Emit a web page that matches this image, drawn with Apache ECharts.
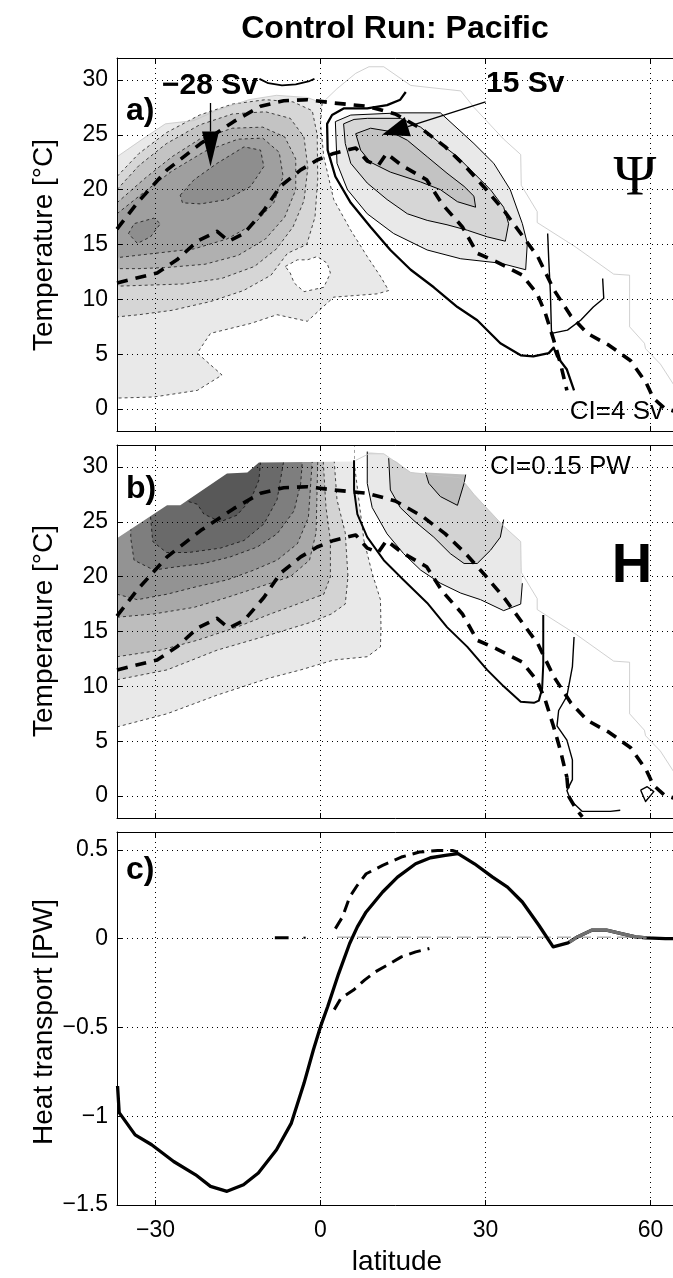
<!DOCTYPE html>
<html><head><meta charset="utf-8">
<script src="https://cdn.jsdelivr.net/npm/echarts@6/dist/echarts.min.js"></script>
<style>html,body{margin:0;padding:0;background:#fff}#c{width:673px;height:1278px}</style>
</head><body><div id="c"></div>
<script>
// ---------- ticks ----------
const latTicks = [-30, 0, 30, 60];
const tempTicks = [0, 5, 10, 15, 20, 25, 30];
const heatTicks = [-1.5, -1, -0.5, 0, 0.5];

// ---------- shared dashed lines (lat, T) ----------
const sstUpper = [[-37,16.4],[-36.7,16.6],[-33.3,18.8],[-27.9,21.8],[-21.8,24.2],[-15.8,26.2],[-10.9,27.6],[-6.7,28.1],[-2.4,28.2],[2.4,27.9],[8.5,27.6],[13.6,26.9],[18.5,25.5],[22.7,23.9],[26.2,22.2],[29.8,20.2],[33.5,18.0],[36.4,16.0],[39.5,13.9],[42.4,10.9],[45.5,8.5],[48.5,6.9],[52.5,5.8],[56.4,4.4],[59.2,2.4],[60.5,1.0],[62.5,0.1],[65,-0.3]];
const sstLower = [[-37,11.5],[-36.7,11.6],[-29.7,12.4],[-26.1,13.6],[-22.4,15.3],[-18.8,16.2],[-16.7,15.3],[-13.9,16.0],[-10.3,18.1],[-7.3,20.3],[-3.6,21.8],[-0.6,22.7],[2.4,23.3],[6.4,23.8],[8.5,22.6],[10.5,22.2],[12,23.3],[14.8,22.2],[19.3,20.9],[22.1,18.7],[25.8,16.6],[28.5,14.2],[32.1,13.4],[36.7,12.2],[39.4,10.5],[40.9,8.7],[42.4,6.3],[43.6,4.2],[44.8,1.7]];
const sstLowerTailB = [[44.8,1.7],[45.1,0],[46.5,-1.2],[47.6,-1.9]];
const maskRight = [[6.4,30.6],[8.8,31.2],[11.5,31.2],[16.4,29.5],[25.5,29.0],[27.9,27.5],[33.3,24.6],[36.4,23.2],[36.5,20.4],[39.4,18.0],[39.4,17.0],[46.3,14.8],[53.3,12.3],[56.2,12.2],[56.2,7.5],[58.9,6.0],[59.1,5.5],[61.8,4.1],[64.5,2.0]];

// ---------- panel a: overturning streamfunction ----------
const psiNegL1 = [[-37,23.0],[-32.1,24.7],[-28.2,26.0],[-23,26.3],[-19,27.2],[-13,28.2],[-8,28.6],[-2.4,28.4],[0.3,27.9],[0,26.0],[0.6,23.0],[2.4,19.1],[5.5,16.3],[8.5,13.9],[10.9,12.1],[12.4,10.8],[10.3,10.5],[2.4,10.2],[-2.4,8.0],[-7.9,8.6],[-12.7,7.8],[-20,6.9],[-22.4,5.1],[-17.9,3.1],[-22.4,1.7],[-30.3,1.1],[-37,1.0]];
const psiNegL1Edge = [[0.3,27.9],[0,26.0],[0.6,23.0],[2.4,19.1],[5.5,16.3],[8.5,13.9],[10.9,12.1],[12.4,10.8],[10.3,10.5],[2.4,10.2],[-2.4,8.0],[-7.9,8.6],[-12.7,7.8],[-20,6.9],[-22.4,5.1],[-17.9,3.1],[-22.4,1.7],[-30.3,1.1],[-37,1.0]];
const psiNegL2 = [[-37,21.2],[-33,23.3],[-28,25.2],[-22,26.8],[-16,27.8],[-10,28.2],[-5,28.0],[-1.5,27.2],[-0.6,25],[-0.5,21],[-1,17.5],[-2.5,15],[-6,14.2],[-9,12.2],[-14,10.8],[-20,9.8],[-27,9.0],[-33,8.6],[-37,8.4]];
const psiNegL3 = [[-37,20.0],[-33,22.2],[-28,24.2],[-22,25.9],[-16,26.9],[-10,27.1],[-5.5,26.5],[-3,24.8],[-2.3,22],[-3,19],[-5,16.6],[-8,14.6],[-12,13.0],[-18,11.9],[-25,11.4],[-31,11.3],[-37,11.2]];
const psiNegL4 = [[-37,18.8],[-32,21.0],[-27,23.0],[-22,24.6],[-16,25.6],[-10.5,25.7],[-6.5,24.8],[-4.5,22.8],[-4.5,20],[-6.5,17.5],[-10,15.5],[-15,14.0],[-21,13.2],[-28,12.9],[-33,12.8],[-37,12.8]];
const psiNegL5 = [[-37,17.8],[-32,19.8],[-27,21.7],[-21,23.5],[-15,24.6],[-10.5,24.7],[-7.5,23.4],[-6.8,21.2],[-8.5,18.8],[-12,16.9],[-17,15.5],[-23,14.6],[-30,14.2],[-37,13.8]];
const psiNegCoreMain = [[-25.5,19.5],[-23,20.9],[-18.8,22.4],[-13.9,23.9],[-10.9,23.6],[-10.3,22.1],[-12.7,20.3],[-17,19.1],[-21.8,18.7],[-25.1,18.8]];
const psiNegCoreLeft = [[-34.9,16.0],[-33.9,16.9],[-30.3,17.4],[-29.1,16.9],[-30.9,15.7],[-33.3,15.1]];
const psiHole = [[-6.4,13.0],[-4.2,13.6],[-2.4,13.6],[-0.6,13.9],[1.2,13.3],[1.8,12.4],[0.6,11.1],[-3.0,10.7],[-4.8,11.5],[-5.5,12.4]];
const psiPos4 = [[2.7,26.2],[5.5,26.8],[14.5,27.0],[21.8,27.0],[27.9,24.2],[31.5,22.4],[34.5,20.0],[36.7,16.9],[37.6,15.1],[37.3,12.7],[32.7,13.3],[25.5,13.7],[19.4,14.5],[13.3,16.0],[8.5,17.8],[4.9,20.0],[3.0,22.4]];
const psiPos8 = [[4.2,26.0],[6.1,26.4],[8.5,26.5],[14.5,26.5],[18.2,25.7],[21.8,24.2],[24.9,23.0],[27.9,21.5],[30.9,20.0],[33.3,18.4],[34.2,16.9],[33.6,15.3],[30.3,15.7],[26.7,16.3],[23.0,16.8],[19.4,17.2],[15.8,17.8],[12.1,19.1],[8.5,20.6],[5.5,22.4],[4.5,24.2]];
const psiPos12 = [[6.4,25.1],[9.1,25.6],[12.7,25.3],[15.8,24.5],[19.4,23.0],[23.0,21.5],[26.1,20.3],[27.9,19.4],[28.2,18.4],[24.9,18.9],[21.8,20.0],[18.2,20.7],[12.7,21.6],[9.1,22.5],[7.3,23.6]];
const psiZeroA = [[15.5,28.9],[14.5,28.2],[12.1,27.7],[8.5,27.4],[4.2,27.4],[2.1,26.8],[1.2,26.0],[1.3,23.6],[2.7,21.2],[5.5,18.8],[9.1,16.6],[12.7,14.5],[16.4,12.7],[20.6,11.1],[24.9,9.3],[28.5,8.1],[32.7,6.0],[36.4,4.9],[38.7,4.8],[41.5,5.1],[42.4,5.6],[43.0,4.8],[44.8,3.6],[46.1,1.7]];
const psiLineV = [[41.3,16.0],[41.5,13.6],[41.8,10.6],[42,6.9],[44.9,7.2],[47.3,8.1],[49.6,9.3],[51.5,10.1],[51.3,11.9]];
const psiTopCurve = [[-11.1,30.1],[-9.5,29.7],[-7,29.5],[-4.5,29.6],[-2,29.9],[-1.1,30.1]];
const psiMaskA = [[-37,23.0],[-32.1,24.7],[-28.2,26.0],[-23,26.3],[-19,27.2],[-13,28.2],[-8,28.6],[-2.4,28.4],[0.3,27.9],[3,29.2]].concat(maskRight);
const arrowNeg = [[-20,27.9],[-20,22.1]];
const arrowPos = [[30.0,28.0],[11.2,25.0]];

// ---------- panel b: heat transport ----------
const heatNegB1 = [[-37,6.3],[-27.9,7.5],[-18.8,9.2],[-9.7,10.7],[-3.6,11.5],[2.4,12.4],[8.5,12.7],[10.9,13.6],[11.0,15.4],[10.9,17.9],[9.4,20.3],[7.9,23.3],[6.1,30.5],[6.1,32],[-37,32]];
const heatNegB2 = [[-37,10.6],[-27.9,11.5],[-18.8,13.3],[-8.5,14.8],[-2,15.8],[2,16.6],[4.5,17.5],[5,20],[4.5,24],[3,27],[2.5,30.5],[2.5,32],[-37,32]];
const heatNegB3 = [[-37,12.7],[-29.1,13.3],[-22.4,14.2],[-15.2,15.4],[-9.1,16.6],[-4.2,17.5],[0.6,18.4],[1.8,20],[1.8,23.3],[1,26.3],[0.5,30.5],[0.5,32],[-37,32]];
const heatNegB4 = [[-37,16.3],[-30.3,16.6],[-23,17.2],[-17,18.1],[-10.9,19.1],[-5.5,20.0],[-2,21.5],[-0.8,24],[-0.5,30.5],[-0.5,32],[-37,32]];
const heatNegB5 = [[-37,18.4],[-33.3,17.9],[-27.9,18.4],[-22.4,19.1],[-17,19.7],[-12.1,20.6],[-7.9,21.5],[-4.2,23.0],[-2.2,25.4],[-1.5,30.5],[-1.5,32],[-37,32]];
const heatNegB6 = [[-34.5,25],[-34.5,23.5],[-33.9,21.5],[-30.3,20.6],[-26.1,20.9],[-21.2,21.2],[-16.4,21.8],[-11.5,22.7],[-7.9,23.9],[-4.8,26.0],[-3.6,28.5],[-3.3,30.5],[-3.3,32],[-34.5,32]];
const heatNegB7 = [[-31,26],[-30.5,23.2],[-28,22.2],[-24,22.2],[-18.2,22.6],[-13.9,23.3],[-10.3,24.8],[-7.9,27.0],[-6.7,30.5],[-6.7,32],[-31,32]];
const heatNegB8 = [[-25,27],[-22.4,26.6],[-21.2,25.7],[-18.2,25.0],[-15.2,25.6],[-12.7,27.0],[-11.2,28.8],[-10.9,30.5],[-10.9,32],[-25,32]];
const heatMaskB = [[-37,23.5],[-27.9,26.5],[-25.5,26.5],[-17,29.4],[-13.3,29.5],[-11.2,30.4],[6.1,30.5],[6.1,33],[-37,33]];
const heatPosLight = [[8.5,31.4],[8.5,28.5],[9.4,26.3],[12.1,23.9],[15.1,22.1],[18.2,20.6],[21.8,19.4],[25.5,18.5],[29.1,17.9],[33.3,16.9],[36.4,17.5],[36.7,19.4],[36.5,20.4],[36.4,23.2],[33.3,24.6],[27.9,27.5],[25.5,29.0],[16.4,29.5],[11.5,31.2]];
const heatPosLightEdge = [[8.5,31.4],[8.5,28.5],[9.4,26.3],[12.1,23.9],[15.1,22.1],[18.2,20.6],[21.8,19.4],[25.5,18.5],[29.1,17.9],[33.3,16.9],[36.4,17.5],[36.7,19.4]];
const heatPosMid = [[12.4,30.8],[12.7,27.9],[14.5,26.3],[17.0,25.1],[20.6,23.6],[23.6,22.1],[26.1,21.2],[28.5,21.2],[30.9,22.4],[32.7,23.6],[33.3,24.6],[27.9,27.5],[25.5,29.0],[16.4,29.5],[13.8,30.5]];
const heatPosMidEdge = [[12.4,30.8],[12.7,27.9],[14.5,26.3],[17.0,25.1],[20.6,23.6],[23.6,22.1],[26.1,21.2],[28.5,21.2],[30.9,22.4],[32.7,23.6],[33.3,25.2]];
const heatPosCore = [[19.1,29.5],[19.7,28.5],[21.8,27.3],[24.9,26.5],[26.1,28.5],[26.4,29.3]];
const heatZeroB = [[6.1,30.6],[6.1,27.9],[6.7,25.7],[8.5,23.6],[11.5,21.5],[15.1,19.7],[19.4,17.6],[23.0,15.4],[26.7,13.6],[30.3,11.5],[33.3,10.0],[36.4,8.6],[38.8,8.5],[39.7,8.7],[40.3,9.8],[40.5,12],[40.5,16.5]];
const heatLineB5 = [[46.1,14.5],[45.8,11.8],[44.8,9.1],[43.3,7.8],[43.0,6.4],[44.8,5.1],[45.8,3.3],[45.8,1.5],[44.8,0.5],[45.5,-0.4],[47.6,-1.4],[52.7,-1.4],[54.5,-1.3]];
const heatLoopB = [[58.2,0.55],[59.4,0.85],[60.6,0.4],[59.1,-0.5],[58.2,0.55]];

// ---------- panel c: heat transport (PW) ----------
const heatTotal = [[-36.9,-0.83],[-36.6,-0.98],[-33.7,-1.105],[-30.7,-1.161],[-26.7,-1.255],[-22.7,-1.33],[-20,-1.395],[-17,-1.423],[-14,-1.386],[-11.3,-1.32],[-8,-1.189],[-5.3,-1.039],[-3,-0.815],[-1.3,-0.627],[0,-0.496],[1.3,-0.384],[3.3,-0.197],[5.3,-0.028],[6.7,0.066],[8.3,0.15],[11.3,0.262],[14,0.346],[17.3,0.421],[20,0.455],[22.7,0.468],[25,0.478],[28,0.421],[31.3,0.346],[34,0.29],[36.7,0.206],[39.7,0.075],[42.3,-0.047],[45,-0.024],[46.7,0.009],[49.3,0.047],[52,0.047],[54.7,0.028],[57.3,0.009],[59.3,0.004],[62.7,0],[65,0]];
const heatGrayPart = [[45.3,-0.02],[46.7,0.009],[49.3,0.047],[52,0.047],[54.7,0.028],[57.3,0.009],[59.3,0.004]];
const heatUpper = [[2.7,0.056],[4,0.122],[5.3,0.234],[6.7,0.3],[8.3,0.365],[11.3,0.412],[14.7,0.459],[18,0.487],[21.3,0.496],[24,0.496],[25,0.487]];
const heatLower = [[2.5,-0.40],[3.7,-0.337],[6,-0.29],[8,-0.234],[10,-0.187],[12.7,-0.14],[14.7,-0.103],[17.3,-0.075],[19.8,-0.056]];
const heatZeroRef = [[3,0.008],[60,0.008]];
const heatBlackBit = [[-8.3,0.005],[-5.8,0.005]];
const heatBlackDot = [[-3.1,0.005],[-2.7,0.005]];

// ---------- helpers ----------
const FONT = '"Liberation Sans", Arial, Helvetica, sans-serif';
const fmt = v => (v < 0 ? '\u2212' : '') + Math.abs(v);
function poly(gi, pts, fill, stroke, lw, dash) {
  return { type:'custom', coordinateSystem:'cartesian2d', xAxisIndex:gi*2, yAxisIndex:gi,
    clip:true, silent:true, data:[[0,0]],
    renderItem:(p, api) => ({ type:'polygon',
      shape:{ points: pts.map(q => api.coord(q)) },
      style:{ fill: fill || 'none', stroke: stroke || 'none', lineWidth: lw || 0, lineDash: dash || null } }) };
}
function line(gi, pts, color, lw, dash) {
  return { type:'line', xAxisIndex:gi*2, yAxisIndex:gi, data:pts, symbol:'none', showSymbol:false,
    silent:true, lineStyle:{ color, width:lw, type: dash || 'solid', cap:'butt', join:'round' } };
}
function arrow(gi, pts, headLen, headW, lw) {
  return { type:'custom', coordinateSystem:'cartesian2d', xAxisIndex:gi*2, yAxisIndex:gi, silent:true, data:[[0,0]], z:6,
    renderItem:(p, api) => {
      const a = api.coord(pts[0]), b = api.coord(pts[1]);
      const dx = b[0]-a[0], dy = b[1]-a[1], L = Math.hypot(dx, dy), ux = dx/L, uy = dy/L;
      const bx = b[0]-ux*headLen, by = b[1]-uy*headLen, nx = -uy, ny = ux;
      return { type:'group', children:[
        { type:'line', shape:{x1:a[0], y1:a[1], x2:bx, y2:by}, style:{stroke:'#000', lineWidth:lw} },
        { type:'polygon', shape:{ points:[b, [bx+nx*headW/2, by+ny*headW/2], [bx-nx*headW/2, by-ny*headW/2]] }, style:{fill:'#000'} }
      ]};
    } };
}
const dotted = { show:true, lineStyle:{ color:'#000', width:1, type:[1,4] } };
function xAxes(gi, showLabels) {
  return [
    { gridIndex:gi, type:'value', min:-37, max:65, position:'bottom', z:10,
      axisLine:{ show:true, onZero:false, lineStyle:{ color:'#000', width:1 } },
      axisTick:{ show:true, inside:true, length:5, customValues:latTicks, lineStyle:{ color:'#000' } },
      axisLabel:{ show:showLabels, customValues:latTicks, margin:14, color:'#000', fontSize:23, fontFamily:FONT, formatter:fmt },
      splitLine:dotted },
    { gridIndex:gi, type:'value', min:-37, max:65, position:'top', z:10,
      axisLine:{ show:true, onZero:false, lineStyle:{ color:'#000', width:1 } },
      axisTick:{ show:true, inside:true, length:5, customValues:latTicks, lineStyle:{ color:'#000' } },
      axisLabel:{ show:false }, splitLine:{ show:false } }
  ];
}
function yAxis(gi, min, max, ticks) {
  return { gridIndex:gi, type:'value', min, max, z:10,
    axisLine:{ show:true, onZero:false, lineStyle:{ color:'#000', width:1 } },
    axisTick:{ show:true, inside:true, length:5, customValues:ticks, lineStyle:{ color:'#000' } },
    axisLabel:{ customValues:ticks, margin:9, color:'#000', fontSize:23, fontFamily:FONT, formatter:fmt },
    splitLine:dotted };
}
const negDash = [3,3];
const thickDash = [11,8];
const greysA = ['#e9e9e9','#d6d6d6','#c3c3c3','#b0b0b0','#9f9f9f','#8e8e8e'];
const greysB = ['#e9e9e9','#d3d3d3','#bdbdbd','#a8a8a8','#939393','#7e7e7e','#6a6a6a','#585858'];

const series = [
  // panel a fills
  poly(0, psiNegL1, greysA[0]),
  poly(0, psiNegL2, greysA[1], '#000', 0.7, negDash),
  poly(0, psiNegL3, greysA[2], '#000', 0.7, negDash),
  poly(0, psiNegL4, greysA[3], '#000', 0.7, negDash),
  poly(0, psiNegL5, greysA[4], '#000', 0.7, negDash),
  poly(0, psiNegCoreMain, greysA[5], '#000', 0.7, negDash),
  poly(0, psiNegCoreLeft, greysA[5], '#000', 0.7, negDash),
  poly(0, psiHole, '#fff', '#000', 0.7, negDash),
  line(0, psiNegL1Edge, '#000', 0.7, negDash),
  poly(0, psiPos4, greysA[0], '#000', 1),
  poly(0, psiPos8, greysA[1], '#000', 1),
  poly(0, psiPos12, greysA[2], '#000', 1),
  line(0, psiMaskA, '#c4c4c4', 0.8),
  line(0, psiZeroA, '#000', 2.3),
  line(0, psiLineV, '#000', 1.4),
  line(0, psiTopCurve, '#000', 1.8),
  line(0, sstUpper, '#000', 3.6, thickDash),
  line(0, sstLower, '#000', 3.6, thickDash),
  arrow(0, arrowNeg, 35, 17, 1.3),
  arrow(0, arrowPos, 27, 20, 1.3),
  // panel b fills
  poly(1, heatNegB1, greysB[0], '#000', 0.7, negDash),
  poly(1, heatNegB2, greysB[1], '#000', 0.7, negDash),
  poly(1, heatNegB3, greysB[2], '#000', 0.7, negDash),
  poly(1, heatNegB4, greysB[3], '#000', 0.7, negDash),
  poly(1, heatNegB5, greysB[4], '#000', 0.7, negDash),
  poly(1, heatNegB6, greysB[5], '#000', 0.7, negDash),
  poly(1, heatNegB7, greysB[6], '#000', 0.7, negDash),
  poly(1, heatNegB8, greysB[7], '#000', 0.7, negDash),
  poly(1, heatMaskB, '#fff'),
  poly(1, heatPosLight, greysB[0]),
  poly(1, heatPosMid, greysB[1]),
  poly(1, heatPosCore, greysB[2]),
  line(1, heatPosLightEdge, '#000', 1),
  line(1, heatPosMidEdge, '#000', 1),
  line(1, heatPosCore, '#000', 1),
  line(1, maskRight, '#c4c4c4', 0.8),
  line(1, heatZeroB, '#000', 2.0),
  line(1, heatLineB5, '#000', 1.4),
  line(1, heatLoopB, '#000', 1.4),
  line(1, sstUpper, '#000', 3.6, thickDash),
  line(1, sstLower, '#000', 3.6, thickDash),
  line(1, sstLowerTailB, '#000', 3.6, thickDash),
  // panel c
  line(2, heatZeroRef, '#8a8a8a', 1, [14,6]),
  line(2, heatTotal, '#000', 3.3),
  line(2, heatGrayPart, '#707070', 3.3),
  line(2, heatUpper, '#000', 3.0, [12,7]),
  line(2, heatLower, '#000', 3.0, [12,7]),
  line(2, heatBlackBit, '#000', 3.0),
  line(2, heatBlackDot, '#000', 2.0)
];

function txt(x, y, s, font, align, extra) {
  return Object.assign({ type:'text', x, y, z:100, silent:true,
    style:{ text:s, font, fill:'#000', align: align || 'left', verticalAlign:'middle' } }, extra || {});
}
const graphic = [
  txt(395, 29, 'Control Run: Pacific', 'bold 32px ' + FONT, 'center'),
  txt(126, 111, 'a)', 'bold 32px ' + FONT),
  txt(162, 86, '\u221228 Sv', 'bold 30px ' + FONT),
  txt(486, 84, '15 Sv', 'bold 30px ' + FONT),
  txt(635, 180, '\u03A8', '58px "Liberation Serif", "DejaVu Serif", serif', 'center'),
  txt(663, 412, 'CI=4 Sv', '26px ' + FONT, 'right'),
  txt(126, 489, 'b)', 'bold 32px ' + FONT),
  txt(490, 467, 'CI=0.15 PW', '26px ' + FONT),
  txt(632, 567, 'H', 'bold 56px ' + FONT, 'center'),
  txt(126, 870, 'c)', 'bold 32px ' + FONT),
  txt(44, 245, 'Temperature [\u00B0C]', '28px ' + FONT, 'center', { rotation: Math.PI/2 }),
  txt(44, 631, 'Temperature [\u00B0C]', '28px ' + FONT, 'center', { rotation: Math.PI/2 }),
  txt(44, 1022, 'Heat transport [PW]', '28px ' + FONT, 'center', { rotation: Math.PI/2 }),
  txt(397, 1262, 'latitude', '28px ' + FONT, 'center')
];

const chart = echarts.init(document.getElementById('c'), null, { renderer:'canvas' });
chart.setOption({
  animation:false,
  backgroundColor:'#fff',
  grid:[
    { left:117, width:561, top:58, height:373, outerBoundsMode:'none' },
    { left:117, width:561, top:445, height:373, outerBoundsMode:'none' },
    { left:117, width:561, top:832, height:373, outerBoundsMode:'none' }
  ],
  xAxis:[].concat(xAxes(0,false), xAxes(1,false), xAxes(2,true)),
  yAxis:[ yAxis(0,-2,32,tempTicks), yAxis(1,-2,32,tempTicks), yAxis(2,-1.5,0.6,heatTicks) ],
  series,
  graphic
});
</script>
</body></html>
